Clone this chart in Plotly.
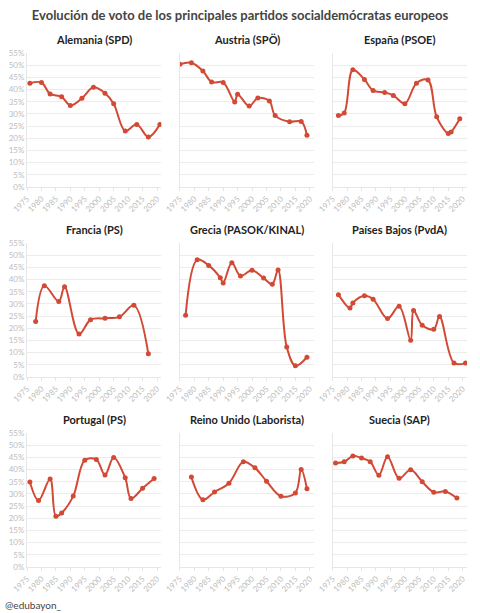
import plotly.graph_objects as go
from plotly.subplots import make_subplots

# Datos: años de elecciones y % de voto por partido
titulos = ["Alemania (SPD)", "Austria (SPÖ)", "España (PSOE)",
           "Francia (PS)", "Grecia (PASOK/KINAL)", "Países Bajos (PvdA)",
           "Portugal (PS)", "Reino Unido (Laborista)", "Suecia (SAP)"]

alemania_anos = [1976, 1980, 1983, 1987, 1990, 1994, 1998, 2002, 2005, 2009, 2013, 2017, 2021]
alemania_voto = [42.6, 42.9, 38.2, 37.0, 33.5, 36.4, 40.9, 38.5, 34.2, 23.0, 25.7, 20.5, 25.7]

austria_anos = [1975, 1979, 1983, 1986, 1990, 1994, 1995, 1999, 2002, 2006, 2008, 2013, 2017, 2019]
austria_voto = [50.4, 51.0, 47.6, 43.1, 42.9, 34.9, 38.1, 33.2, 36.5, 35.3, 29.3, 26.8, 26.9, 21.2]

espana_anos = [1977, 1979, 1982, 1986, 1989, 1993, 1996, 2000, 2004, 2008, 2011, 2015, 2016, 2019]
espana_voto = [29.3, 30.4, 48.1, 44.1, 39.6, 38.8, 37.6, 34.2, 42.6, 43.9, 28.8, 22.0, 22.6, 28.0]

francia_anos = [1978, 1981, 1986, 1988, 1993, 1997, 2002, 2007, 2012, 2017]
francia_voto = [22.8, 37.5, 31.0, 37.0, 17.6, 23.5, 24.1, 24.7, 29.4, 9.5]

grecia_anos = [1977, 1981, 1985, 1989, 1990, 1993, 1996, 2000, 2004, 2007, 2009, 2012, 2015, 2019]
grecia_voto = [25.3, 48.1, 45.8, 40.7, 38.6, 46.9, 41.5, 43.8, 40.6, 38.1, 43.9, 12.3, 4.6, 8.1]

paises_bajos_anos = [1977, 1981, 1982, 1986, 1989, 1994, 1998, 2002, 2003, 2006, 2010, 2012, 2017, 2021]
paises_bajos_voto = [33.8, 28.3, 30.4, 33.3, 31.9, 24.0, 29.0, 15.1, 27.3, 21.2, 19.6, 24.8, 5.7, 5.7]

portugal_anos = [1976, 1979, 1983, 1985, 1987, 1991, 1995, 1999, 2002, 2005, 2009, 2011, 2015, 2019]
portugal_voto = [34.9, 27.3, 36.1, 20.8, 22.2, 29.1, 43.8, 44.1, 37.8, 45.0, 36.6, 28.1, 32.3, 36.3]

reino_unido_anos = [1979, 1983, 1987, 1992, 1997, 2001, 2005, 2010, 2015, 2017, 2019]
reino_unido_voto = [36.9, 27.6, 30.8, 34.4, 43.2, 40.7, 35.2, 29.0, 30.4, 40.0, 32.1]

suecia_anos = [1976, 1979, 1982, 1985, 1988, 1991, 1994, 1998, 2002, 2006, 2010, 2014, 2018]
suecia_voto = [42.7, 43.2, 45.6, 44.7, 43.2, 37.7, 45.3, 36.4, 39.9, 35.0, 30.7, 31.0, 28.3]

series = [
    (alemania_anos, alemania_voto), (austria_anos, austria_voto), (espana_anos, espana_voto),
    (francia_anos, francia_voto), (grecia_anos, grecia_voto), (paises_bajos_anos, paises_bajos_voto),
    (portugal_anos, portugal_voto), (reino_unido_anos, reino_unido_voto), (suecia_anos, suecia_voto),
]

ticks_x = list(range(1975, 2021, 5))
ticks_y = list(range(0, 56, 5))

rojo = "#d24a36"
fuente = "Lato"

fig = make_subplots(rows=3, cols=3, subplot_titles=titulos,
                    horizontal_spacing=0.042, vertical_spacing=0.109)

for i, (anos, voto) in enumerate(series):
    fila = i // 3 + 1
    col = i % 3 + 1
    fig.add_trace(go.Scatter(x=anos, y=voto, mode="lines+markers",
                             line=dict(color=rojo, width=2, shape="spline", smoothing=1),
                             marker=dict(color=rojo, size=5),
                             showlegend=False,
                             hovertemplate="%{x}: %{y:.1f}%<extra></extra>"),
                  row=fila, col=col)
    fig.update_xaxes(range=[1975, 2021.5], tickvals=ticks_x, tickangle=-45,
                     automargin=False,
                     showgrid=False, showline=True, linecolor="#e6e6e6",
                     ticks="outside", ticklen=3, tickcolor="#e6e6e6",
                     tickfont=dict(size=8, color="#bdbdbd"),
                     row=fila, col=col)
    fig.update_yaxes(range=[0, 55], tickmode="array", tickvals=ticks_y,
                     ticktext=[f"{v}%" for v in ticks_y],
                     showticklabels=(col == 1), automargin=False,
                     showgrid=True, gridcolor="#ececec", zeroline=False,
                     showline=True, linecolor="#e6e6e6",
                     tickfont=dict(size=8, color="#bdbdbd"),
                     row=fila, col=col)

for a in fig.layout.annotations:
    a.font = dict(family=fuente, size=11, color="#222222")
    a.text = "<b>" + a.text + "</b>"
    a.yshift = 5

fig.add_annotation(text="@edubayon_", xref="paper", yref="paper",
                   x=-0.055, y=-0.074, xanchor="left", yanchor="middle",
                   showarrow=False, font=dict(family=fuente, size=10, color="#444444"))

fig.update_layout(
    width=480, height=613,
    margin=dict(l=27, r=13, t=53, b=46),
    title=dict(text="<b>Evolución de voto de los principales partidos socialdemócratas europeos</b>",
               x=0.5, xanchor="center", y=0.975, yanchor="middle",
               font=dict(family=fuente, size=13, color="#444444")),
    font=dict(family=fuente),
    paper_bgcolor="white", plot_bgcolor="white",
)

# sin margen del body para que la figura ocupe la ventana
fig.write_html("out.html", config={"displayModeBar": False},
               post_script="document.body.style.margin='0';")
